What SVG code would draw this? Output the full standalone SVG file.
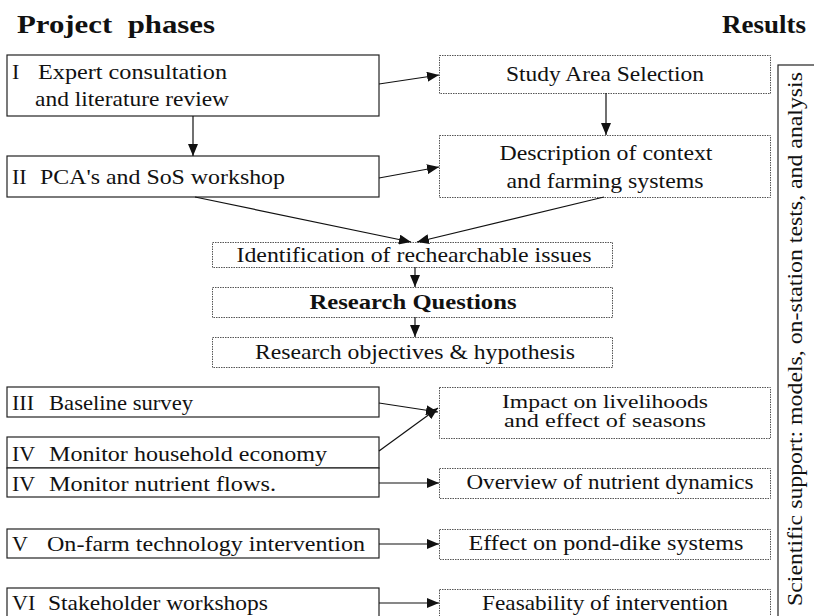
<svg xmlns="http://www.w3.org/2000/svg" width="814" height="616" viewBox="0 0 814 616" font-family="'Liberation Serif', serif">
<style>
text{font-family:'Liberation Serif',serif;fill:#111;font-size:22px}
.t{font-weight:bold;font-size:26px}
.ph{fill:#fff;stroke:#222;stroke-width:1.2}
.rs{fill:#fff;stroke:#555;stroke-width:1;stroke-dasharray:1.5 1}
.c{text-anchor:middle}
.ln{stroke:#111;stroke-width:1.2;fill:none;marker-end:url(#ah)}
</style>
<defs>
<marker id="ah" viewBox="0 0 12 10" refX="12" refY="5" markerWidth="12" markerHeight="10" markerUnits="userSpaceOnUse" orient="auto">
<path d="M0,0 L12,5 L0,10 Z" fill="#111"/>
</marker>
</defs>
<text class="t" x="17" y="33" textLength="198" lengthAdjust="spacingAndGlyphs" xml:space="preserve">Project  phases</text>
<text class="t" x="722" y="33" textLength="84" lengthAdjust="spacingAndGlyphs">Results</text>

<g id="phase1"><rect class="ph" x="7" y="55" width="372" height="61"/>
<text x="12" y="79">I</text><text x="38" y="79" textLength="189" lengthAdjust="spacingAndGlyphs">Expert consultation</text>
<text x="35" y="106" textLength="194" lengthAdjust="spacingAndGlyphs">and literature review</text></g>
<g id="phase2"><rect class="ph" x="7" y="156" width="372" height="41"/>
<text x="12" y="184">II</text><text x="40" y="184" textLength="245" lengthAdjust="spacingAndGlyphs">PCA's and SoS workshop</text></g>

<g id="study"><rect class="rs" x="439.5" y="55.5" width="331" height="38"/>
<text class="c" x="605" y="81" textLength="198" lengthAdjust="spacingAndGlyphs">Study Area Selection</text></g>
<g id="desc"><rect class="rs" x="439.5" y="135.5" width="331" height="62"/>
<text class="c" x="606" y="160" textLength="213" lengthAdjust="spacingAndGlyphs">Description of context</text>
<text class="c" x="605" y="188" textLength="197" lengthAdjust="spacingAndGlyphs">and farming systems</text></g>

<g id="ident"><rect class="rs" x="212.5" y="242.5" width="400" height="25"/>
<text class="c" x="414" y="262" textLength="355" lengthAdjust="spacingAndGlyphs">Identification of rechearchable issues</text></g>
<g id="rq"><rect class="rs" x="212.5" y="287.5" width="400" height="30"/>
<text class="c" x="413" y="309" font-weight="bold" textLength="207" lengthAdjust="spacingAndGlyphs">Research Questions</text></g>
<g id="obj"><rect class="rs" x="212.5" y="337.5" width="400" height="30"/>
<text class="c" x="415" y="359" textLength="320" lengthAdjust="spacingAndGlyphs">Research objectives &amp; hypothesis</text></g>

<g id="phase3"><rect class="ph" x="7" y="387" width="372" height="30"/>
<text x="12" y="410">III</text><text x="49" y="410" textLength="144" lengthAdjust="spacingAndGlyphs">Baseline survey</text></g>
<g id="phase4a"><rect class="ph" x="7" y="437" width="372" height="31"/>
<text x="12" y="461">IV</text><text x="49" y="461" textLength="278" lengthAdjust="spacingAndGlyphs">Monitor household economy</text></g>
<g id="phase4b"><rect class="ph" x="7" y="468" width="372" height="29"/>
<text x="12" y="491">IV</text><text x="49" y="491" textLength="227" lengthAdjust="spacingAndGlyphs">Monitor nutrient flows.</text></g>
<g id="phase5"><rect class="ph" x="7" y="529" width="372" height="29"/>
<text x="12" y="551">V</text><text x="47" y="551" textLength="318" lengthAdjust="spacingAndGlyphs">On-farm technology intervention</text></g>
<g id="phase6"><rect class="ph" x="7" y="588" width="372" height="40"/>
<text x="12" y="610">VI</text><text x="48" y="610" textLength="220" lengthAdjust="spacingAndGlyphs">Stakeholder workshops</text></g>

<g id="impact"><rect class="rs" x="439.5" y="387.5" width="331" height="51"/>
<text class="c" x="605" y="408" style="font-size:19px" textLength="206" lengthAdjust="spacingAndGlyphs">Impact on livelihoods</text>
<text class="c" x="605" y="427" style="font-size:19px" textLength="202" lengthAdjust="spacingAndGlyphs">and effect of seasons</text></g>
<g id="overview"><rect class="rs" x="439.5" y="468.5" width="331" height="30"/>
<text class="c" x="610" y="489" textLength="287" lengthAdjust="spacingAndGlyphs">Overview of nutrient dynamics</text></g>
<g id="effect"><rect class="rs" x="439.5" y="529.5" width="331" height="30"/>
<text class="c" x="606" y="550" textLength="275" lengthAdjust="spacingAndGlyphs">Effect on pond-dike systems</text></g>
<g id="feas"><rect class="rs" x="439.5" y="589.5" width="331" height="40"/>
<text class="c" x="605" y="610" textLength="246" lengthAdjust="spacingAndGlyphs">Feasability of intervention</text></g>

<g id="support"><rect class="ph" x="778" y="65" width="50" height="600"/>
<text class="c" transform="translate(802,339) rotate(-90)" textLength="534" lengthAdjust="spacingAndGlyphs">Scientific support: models, on-station tests, and analysis</text></g>

<g id="connectors">
<line class="ln" x1="379" y1="84" x2="439" y2="75"/>
<line class="ln" x1="379" y1="178" x2="439" y2="167"/>
<line class="ln" x1="193" y1="116" x2="193" y2="156"/>
<line class="ln" x1="606" y1="93" x2="606" y2="135"/>
<line class="ln" x1="195" y1="197" x2="411" y2="242"/>
<line class="ln" x1="604" y1="197" x2="417" y2="242"/>
<line class="ln" x1="415" y1="267" x2="415" y2="287"/>
<line class="ln" x1="415" y1="317" x2="415" y2="337"/>
<line class="ln" x1="379" y1="403" x2="438" y2="412"/>
<line class="ln" x1="379" y1="451" x2="438" y2="408"/>
<line class="ln" x1="379" y1="483" x2="439" y2="483"/>
<line class="ln" x1="379" y1="544" x2="439" y2="544"/>
<line class="ln" x1="379" y1="603" x2="439" y2="603"/>
</g>
</svg>
